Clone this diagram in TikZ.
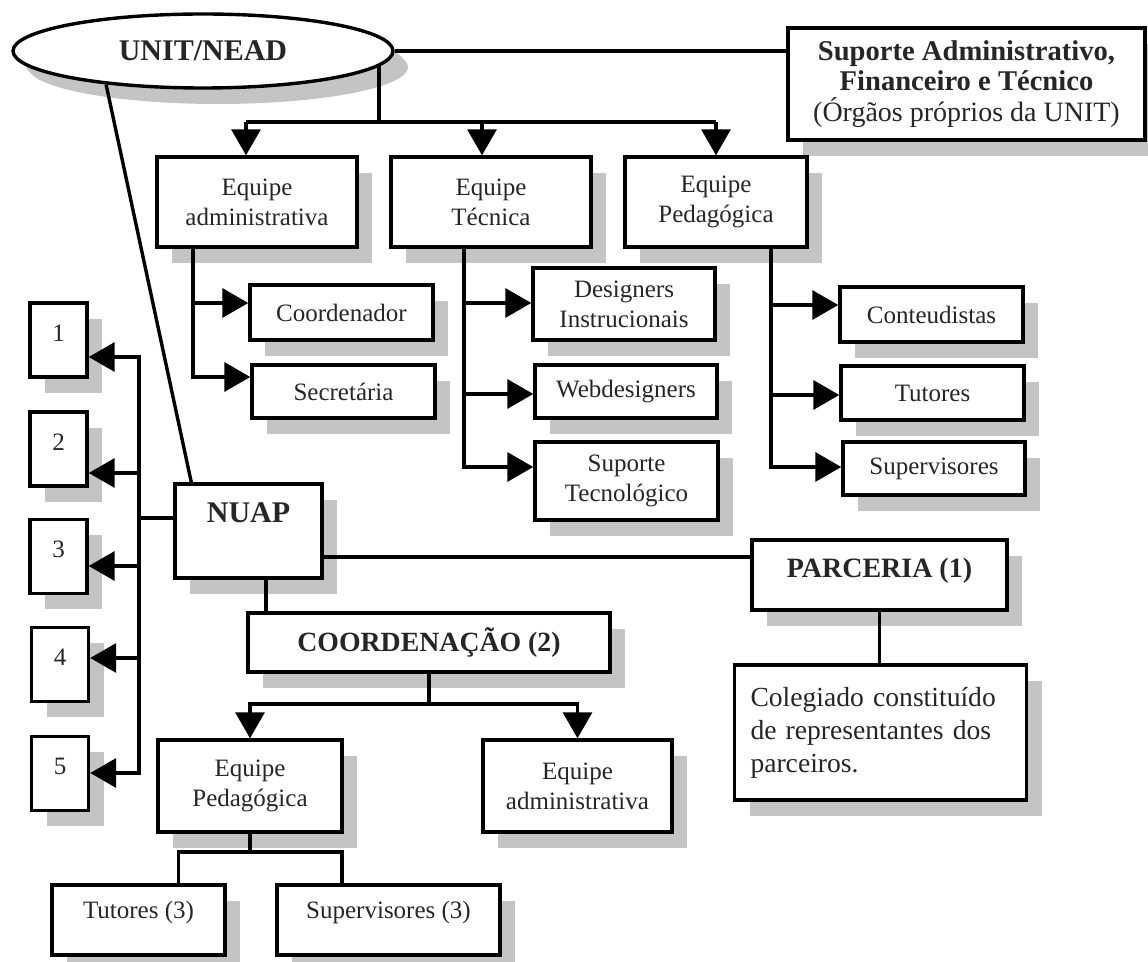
\documentclass[tikz,border=0pt]{standalone}
\usepackage{fontspec}
\setmainfont{Liberation Serif}
\usetikzlibrary{shapes.geometric,shadows,arrows.meta}
\tikzset{
 base/.style={draw, line width=1.7pt, fill=white, inner sep=0pt, align=center, text=black!85,
   drop shadow={shadow xshift=7.5pt, shadow yshift=-8pt, fill=black!23, opacity=1}},
 rbox/.style={base, rectangle, font=\fontsize{12.5}{15}\selectfont},
 bbox/.style={base, rectangle, font=\fontsize{14}{16}\selectfont\bfseries},
 numbox/.style={rbox, minimum width=28.5pt, minimum height=37pt, text height=8.3pt, text depth=7pt},
 conn/.style={line width=1.7pt},
 arr/.style={conn, -{Triangle[length=13pt,width=14.5pt]}},
}
\begin{document}
\begin{tikzpicture}[x=0.5pt,y=-0.5pt]
\useasboundingbox (0,0) rectangle (1148,962);

% top level
\node[base, ellipse, minimum width=190pt, minimum height=37pt, font=\fontsize{15}{17}\selectfont\bfseries,
  drop shadow={shadow xshift=6pt, shadow yshift=-6.5pt, fill=black!23, opacity=1}] (unit) at (203,51) {UNIT/NEAD};
\node[base, rectangle, minimum width=178.5pt, minimum height=56pt, font=\fontsize{14}{15.2}\selectfont] (sup) at (966.5,84)
  {{\fontsize{14.3}{15.2}\selectfont\bfseries Suporte Administrativo,}\\{\fontsize{14.3}{15.2}\selectfont\bfseries Financeiro e Técnico}\\(Órgãos próprios da UNIT)};

% teams
\node[rbox, minimum width=100pt, minimum height=45pt] (eadm) at (257,202) {Equipe\\administrativa};
\node[rbox, minimum width=100pt, minimum height=45pt] (etec) at (491,202) {Equipe\\Técnica};
\node[rbox, minimum width=91pt, minimum height=45pt] (eped) at (716,202) {Equipe\\Pedagógica};

\node[rbox, minimum width=91.5pt, minimum height=27.5pt] (coord) at (341.5,312.5) {Coordenador};
\node[rbox, minimum width=91.5pt, minimum height=26.5pt] (secr) at (343.5,391.5) {Secretária};

\node[rbox, minimum width=91pt, minimum height=36pt] (design) at (624,304) {Designers\\Instrucionais};
\node[rbox, minimum width=91pt, minimum height=26.5pt] (webd) at (626,391.5) {Webdesigners};
\node[rbox, minimum width=91.5pt, minimum height=39pt] (suptec) at (626.5,481) {Suporte\\Tecnológico};

\node[rbox, minimum width=91.5pt, minimum height=27.5pt] (cont) at (931.5,314.5) {Conteudistas};
\node[rbox, minimum width=91.5pt, minimum height=27pt] (tut) at (932.5,393) {Tutores};
\node[rbox, minimum width=91pt, minimum height=26.5pt] (superv) at (934,468.5) {Supervisores};

% numbered boxes
\node[numbox] (b1) at (58.5,340) {1};
\node[numbox] (b2) at (58.5,449) {2};
\node[numbox] (b3) at (58.5,556.5) {3};
\node[numbox] (b4) at (60,664.5) {4};
\node[numbox] (b5) at (60,773.5) {5};

% NUAP and below
\node[bbox, font=\fontsize{15}{17}\selectfont\bfseries, minimum width=73.5pt, minimum height=47pt, text height=10pt, text depth=18pt] (nuap) at (248.5,531) {NUAP};
\node[bbox, minimum width=127.5pt, minimum height=35pt, text height=9.3pt, text depth=7pt] (parc) at (879.5,575) {PARCERIA (1)};
\node[base, rectangle, font=\fontsize{13.8}{16.5}\selectfont, align=left, text width=130pt, inner xsep=8pt, minimum height=67.5pt] (coleg) at (880.5,732.5)
  {Colegiado constituído\\de representantes dos\\parceiros.};
\node[bbox, font=\fontsize{13.9}{16}\selectfont\bfseries, minimum width=181pt, minimum height=29.5pt] (coordn) at (429,642.5) {COORDENAÇÃO (2)};
\node[rbox, minimum width=92pt, minimum height=46pt] (lped) at (250,786) {Equipe\\Pedagógica};
\node[rbox, minimum width=94.5pt, minimum height=46pt] (ladm) at (577.5,786) {Equipe\\administrativa};
\node[rbox, minimum width=86.5pt, minimum height=35pt, text height=8.3pt, text depth=10pt] (tut3) at (138.5,920) {Tutores (3)};
\node[rbox, minimum width=111.5pt, minimum height=35pt, text height=8.3pt, text depth=10pt] (sup3) at (388.5,920) {Supervisores (3)};

% connectors: top
\draw[conn] (unit.east) -- (unit.east -| sup.west);
\coordinate (j1) at (unit.-5.5 |- 0,122);
\draw[conn] (unit.-5.5) -- (j1);
\coordinate (ta) at ([xshift=-5.5pt]eadm.north);
\coordinate (tt) at ([xshift=-4.5pt]etec.north);
\coordinate (tp) at (eped.north);
\draw[conn] (ta |- j1) -- (tp |- j1);
\draw[arr] (ta |- j1) -- (ta);
\draw[arr] (tt |- j1) -- (tt);
\draw[arr] (tp |- j1) -- (tp);

% subtrees
\coordinate (ha) at (eadm.south -| 193,0);
\draw[arr] (ha) |- (coord.west |- 0,303);
\draw[arr] (ha) |- (secr.west |- 0,377);
\coordinate (ht) at (etec.south -| 464,0);
\draw[arr] (ht) |- (design.west |- 0,303);
\draw[arr] (ht) |- (webd.west |- 0,394);
\draw[arr] (ht) |- (suptec.west |- 0,467);
\coordinate (hp) at (eped.south -| 771,0);
\draw[arr] (hp) |- (cont.west |- 0,305);
\draw[arr] (hp) |- (tut.west |- 0,395);
\draw[arr] (hp) |- (superv.west |- 0,467);

% UNIT to NUAP
\coordinate (nt) at ([xshift=9pt]nuap.north west);
\draw[conn] (unit.199) -- (nt);

% NUAP to numbered boxes
\coordinate (jn) at (nuap.west |- 0,518);
\coordinate (vx) at (139,518);
\coordinate (v1) at (139,357);
\coordinate (v2) at (139,473);
\coordinate (v3) at (139,566);
\coordinate (v4) at (139,658);
\coordinate (v5) at (139,773);
\draw[conn] (jn) -- (vx);
\draw[arr] (vx) |- (b1.east |- v1);
\draw[arr] (vx) |- (b5.east |- v5);
\draw[arr] (v2) -- (b2.east |- v2);
\draw[arr] (v3) -- (b3.east |- v3);
\draw[arr] (v4) -- (b4.east |- v4);

% NUAP to PARCERIA
\draw[conn] (nuap.east |- 0,557) -- (parc.west |- 0,557);
\draw[conn] (parc.south) -- (parc.south |- coleg.north);

% NUAP to COORDENACAO
\draw[conn] (nuap.south -| 266,0) -- (coordn.north -| 266,0);
\coordinate (jc) at (coordn.south |- 0,704);
\draw[conn] (coordn.south) -- (jc);
\draw[arr] (jc) -| (lped.north);
\draw[arr] (jc) -| (ladm.north);

% lower team
\coordinate (jl) at (lped.south |- 0,852);
\draw[conn] (lped.south) -- (jl);
\coordinate (t3) at ([xshift=20pt]tut3.north);
\coordinate (s3) at ([xshift=-23.25pt]sup3.north);
\draw[conn] (jl) -| (t3);
\draw[conn] (jl) -| (s3);
\end{tikzpicture}
\end{document}
